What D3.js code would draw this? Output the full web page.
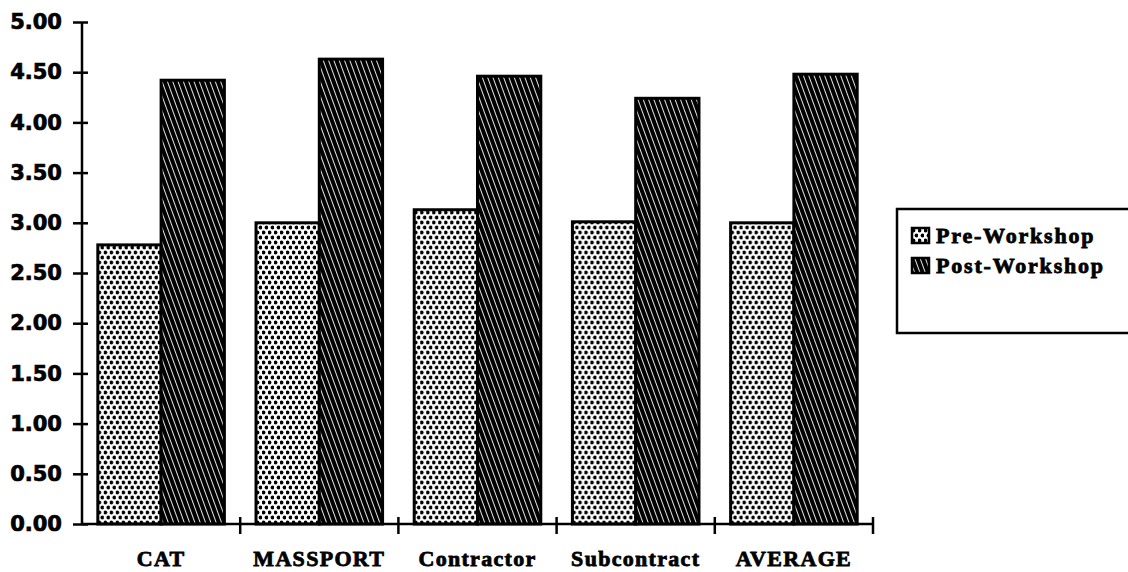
<!DOCTYPE html>
<html>
<head>
<meta charset="utf-8">
<script src="https://cdn.jsdelivr.net/npm/d3@7"></script>
<style>
  body { margin: 0; background: #fff; }
  svg { display: block; }
</style>
</head>
<body>
<div id="chart"></div>
<script>
// values
const categories = ["CAT", "MASSPORT", "Contractor", "Subcontract", "AVERAGE"];
const seriesNames = ["Pre-Workshop", "Post-Workshop"];
const preValues = [2.78, 3.00, 3.13, 3.01, 3.00];
const postValues = [4.42, 4.63, 4.46, 4.24, 4.48];
const yTicks = [0, 0.5, 1, 1.5, 2, 2.5, 3, 3.5, 4, 4.5, 5];

const width = 1128, height = 572;
const plotLeft = 82, plotRight = 873, plotTop = 22, plotBottom = 524;

const rows = categories.map((c, i) => ({ cat: c, vals: [preValues[i], postValues[i]] }));

const svg = d3.select("#chart").append("svg")
  .attr("width", width)
  .attr("height", height);

const defs = svg.append("defs");

// dotted fill for pre-workshop
const dots = defs.append("pattern")
  .attr("id", "dots")
  .attr("patternUnits", "userSpaceOnUse")
  .attr("width", 6).attr("height", 10);
dots.append("rect").attr("width", 6).attr("height", 10).attr("fill", "#fff");
dots.append("circle").attr("cx", 1.5).attr("cy", 2.5).attr("r", 1.9).attr("fill", "#000");
dots.append("circle").attr("cx", 4.5).attr("cy", 7.5).attr("r", 1.9).attr("fill", "#000");

// hatch fill for post-workshop
const hatch = defs.append("pattern")
  .attr("id", "hatch")
  .attr("patternUnits", "userSpaceOnUse")
  .attr("width", 5).attr("height", 5)
  .attr("patternTransform", "rotate(-20)");
hatch.append("rect").attr("width", 5).attr("height", 5).attr("fill", "#000");
hatch.append("rect").attr("x", 2).attr("width", 0.9).attr("height", 5).attr("fill", "#fff");

const fills = ["url(#dots)", "url(#hatch)"];

const x0 = d3.scaleBand()
  .domain(categories)
  .range([plotLeft, plotRight])
  .paddingInner(0.2)
  .paddingOuter(0.1);

const x1 = d3.scaleBand()
  .domain([0, 1])
  .range([0, x0.bandwidth()]);

const y = d3.scaleLinear().domain([0, 5]).range([plotBottom, plotTop]);

// bars
const groups = svg.append("g").selectAll("g")
  .data(rows)
  .join("g")
  .attr("transform", d => "translate(" + x0(d.cat) + ",0)");

groups.selectAll("rect")
  .data(d => d.vals.map((v, k) => ({ v: v, k: k })))
  .join("rect")
  .attr("x", d => x1(d.k))
  .attr("y", d => y(d.v))
  .attr("width", x1.bandwidth())
  .attr("height", d => y(0) - y(d.v))
  .attr("fill", d => fills[d.k])
  .attr("stroke", "#000")
  .attr("stroke-width", 3);

// y axis
const yAxis = d3.axisLeft(y)
  .tickValues(yTicks)
  .tickFormat(d3.format(".2f"))
  .tickSize(9)
  .tickPadding(11);

const gy = svg.append("g")
  .attr("transform", "translate(" + plotLeft + ",0)")
  .call(yAxis);
gy.select(".domain").attr("stroke", "#000").attr("stroke-width", 2.5)
  .attr("d", "M0," + plotTop + "V" + plotBottom);
gy.selectAll(".tick line").attr("x1", 6).attr("stroke-width", 2.5);
gy.selectAll(".tick text")
  .attr("font-family", "DejaVu Sans")
  .attr("font-weight", "bold")
  .attr("font-size", 21)
  .attr("fill", "#000")
  .attr("stroke", "#000")
  .attr("stroke-width", 0.7);

// x axis: line with ticks at category boundaries
const xg = svg.append("g");
xg.append("line")
  .attr("x1", plotLeft).attr("x2", plotRight)
  .attr("y1", plotBottom).attr("y2", plotBottom)
  .attr("stroke", "#000").attr("stroke-width", 2.5);

const step = x0.step();
const bounds = d3.range(categories.length + 1).map(i => plotLeft + i * step);
xg.selectAll(".btick")
  .data(bounds.slice(1))
  .join("line")
  .attr("class", "btick")
  .attr("x1", d => d).attr("x2", d => d)
  .attr("y1", plotBottom - 7).attr("y2", plotBottom + 10)
  .attr("stroke", "#000").attr("stroke-width", 2.5);

xg.selectAll(".clabel")
  .data(categories)
  .join("text")
  .attr("class", "clabel")
  .attr("x", d => x0(d) + x0.bandwidth() / 2)
  .attr("y", 566)
  .attr("text-anchor", "middle")
  .attr("font-family", "Liberation Serif")
  .attr("font-weight", "bold")
  .attr("font-size", 22)
  .attr("letter-spacing", 1.3)
  .attr("stroke", "#000")
  .attr("stroke-width", 0.8)
  .text(d => d);

// legend
const legend = svg.append("g");
legend.append("rect")
  .attr("x", 897).attr("y", 209)
  .attr("width", 240).attr("height", 124)
  .attr("fill", "#fff")
  .attr("stroke", "#000").attr("stroke-width", 2.5);

const items = legend.selectAll(".item")
  .data(seriesNames)
  .join("g")
  .attr("class", "item")
  .attr("transform", (d, i) => "translate(912," + (228 + i * 30) + ")");

items.append("rect")
  .attr("width", 17).attr("height", 15)
  .attr("fill", (d, i) => fills[i])
  .attr("stroke", "#000").attr("stroke-width", 2.5);

items.append("text")
  .attr("x", 24)
  .attr("y", 15)
  .attr("font-family", "Liberation Serif")
  .attr("font-weight", "bold")
  .attr("font-size", 22)
  .attr("letter-spacing", 1.8)
  .attr("stroke", "#000")
  .attr("stroke-width", 0.8)
  .text(d => d);
</script>
</body>
</html>
